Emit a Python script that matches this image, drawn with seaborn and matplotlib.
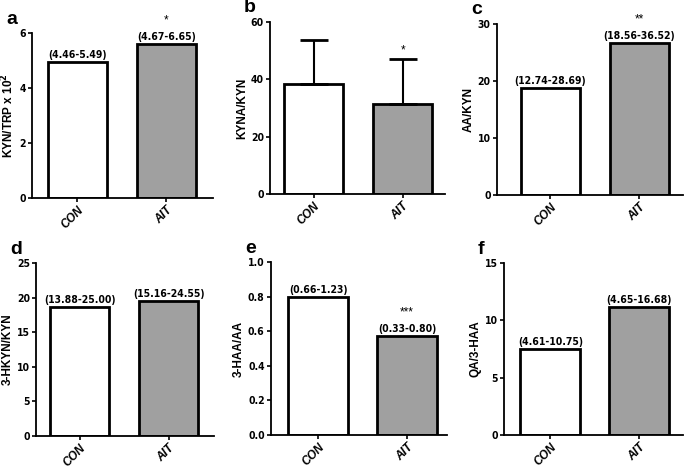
import numpy as np
import pandas as pd
import seaborn as sns
import matplotlib.pyplot as plt
from matplotlib import font_manager

groups = ["CON", "AIT"]

kyn_trp = [4.95, 5.6]
kyna_kyn = [38.4, 31.4]
kyna_kyn_sd = [15.3, 15.7]
aa_kyn = [18.8, 26.7]
hkyn_kyn = [18.6, 19.5]
haa_aa = [0.80, 0.572]
qa_haa = [7.5, 11.16]

ranges_a = ["(4.46-5.49)", "(4.67-6.65)"]
ranges_c = ["(12.74-28.69)", "(18.56-36.52)"]
ranges_d = ["(13.88-25.00)", "(15.16-24.55)"]
ranges_e = ["(0.66-1.23)", "(0.33-0.80)"]
ranges_f = ["(4.61-10.75)", "(4.65-16.68)"]

stars_a = ["", "*"]
stars_b = ["", "*"]
stars_c = ["", "**"]
stars_e = ["", "***"]

sns.set_style("ticks", {"axes.edgecolor": "black", "text.color": "black", "axes.labelcolor": "black",
                        "xtick.color": "black", "ytick.color": "black"})
plt.rcParams["font.family"] = ["Liberation Sans", "DejaVu Sans"]

# narrow font for numbers if one is around
fl = font_manager.fontManager.ttflist
if any(f.name == "Liberation Sans Narrow" for f in fl):
    num_font = dict(family="Liberation Sans Narrow", fontsize=8.5)
elif any(f.name == "DejaVu Sans" and f.stretch == "condensed" and f.weight in ("bold", 700) for f in fl):
    num_font = dict(family="DejaVu Sans", fontstretch="condensed", fontsize=7.5)
else:
    num_font = dict(family="Liberation Sans", fontsize=7.5)

W, H = 685, 472
fig = plt.figure(figsize=(6.85, 4.72), dpi=100)

# panel: (letter, values, sd, ranges, stars, ylabel, yticks, fmt, axis pixels, xlim left)
panels = [
    ("a", kyn_trp, None, ranges_a, stars_a, r"KYN/TRP x 10$^\mathbf{2}$", [0, 2, 4, 6], "{:g}", (32, 213, 33, 198), -0.51),
    ("b", kyna_kyn, kyna_kyn_sd, None, stars_b, "KYNA/KYN", [0, 20, 40, 60], "{:g}", (270, 445, 22, 194), -0.49),
    ("c", aa_kyn, None, ranges_c, stars_c, "AA/KYN", [0, 10, 20, 30], "{:g}", (497, 683, 24, 195), -0.6),
    ("d", hkyn_kyn, None, ranges_d, None, "3-HKYN/KYN", [0, 5, 10, 15, 20, 25], "{:g}", (36, 214, 263, 436), -0.49),
    ("e", haa_aa, None, ranges_e, stars_e, "3-HAA/AA", [0, 0.2, 0.4, 0.6, 0.8, 1.0], "{:.1f}", (271, 447, 262, 435), -0.53),
    ("f", qa_haa, None, ranges_f, None, "QA/3-HAA", [0, 5, 10, 15], "{:g}", (504, 683, 263, 435), -0.52),
]

for letter, vals, sd, rng, stars, ylabel, yticks, fmt, (x0, x1, y0, y1), xl in panels:
    ax = fig.add_axes([x0 / W, 1 - y1 / H, (x1 - x0) / W, (y1 - y0) / H])
    df = pd.DataFrame({"group": groups, "value": vals})
    sns.barplot(data=df, x="group", y="value", hue="group", palette=["white", "#a0a0a0"],
                edgecolor="black", linewidth=2, width=0.67, legend=False, ax=ax)
    tops = list(vals)
    if sd is not None:
        ax.errorbar([0, 1], vals, yerr=[[0, 0], sd], fmt="none", ecolor="black",
                    elinewidth=1.5, capsize=10, capthick=2)
        tops = [v + s for v, s in zip(vals, sd)]
    ax.set_xlim(xl, xl + (x1 - x0) / 89.0)
    ax.set_ylim(0, yticks[-1])
    ax.set_yticks(yticks)
    ax.set_yticklabels([fmt.format(t) for t in yticks], fontweight="bold", **num_font)
    ax.set_xticks([0, 1])
    ax.set_xticklabels(groups, rotation=45, ha="right", rotation_mode="anchor",
                       fontstyle="italic", fontweight="bold", fontsize=8.5)
    ax.set_xlabel("")
    ax.set_ylabel(ylabel, fontweight="bold", fontsize=8.5, labelpad=2)
    ax.tick_params(axis="both", length=3, width=1.2, pad=1.5, colors="black")
    for s in ["top", "right"]:
        ax.spines[s].set_visible(False)
    for s in ["left", "bottom"]:
        ax.spines[s].set_linewidth(1.3)
        ax.spines[s].set_color("black")
    for i in range(2):
        off = 1.5
        if rng is not None:
            ax.annotate(rng[i], (i, tops[i]), xytext=(0, off), textcoords="offset points",
                        ha="center", va="bottom", fontweight="bold", color="black", **num_font)
            off += 11
        if stars is not None and stars[i]:
            ax.annotate(stars[i], (i, tops[i]), xytext=(0, off), textcoords="offset points",
                        ha="center", va="bottom", fontsize=8.5, color="black")
    ax.text((x0 - 26) / W, 1 - (y0 - 14) / H, letter, transform=fig.transFigure,
            fontsize=14, fontweight="bold", ha="left", va="center", color="black")

fig.savefig("out.png", dpi=100)
